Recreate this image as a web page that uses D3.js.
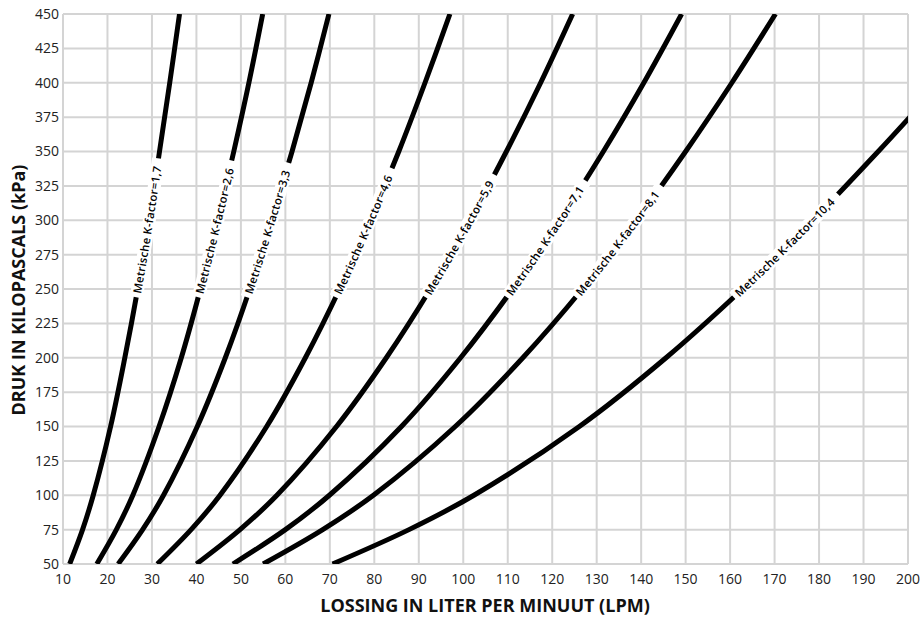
<!DOCTYPE html>
<html>
<head>
<meta charset="utf-8">
<script src="https://cdn.jsdelivr.net/npm/d3@7"></script>
<style>
  body { margin: 0; background: #fff; }
  svg { display: block; }
  text { font-family: "Open Sans", sans-serif; }
</style>
</head>
<body>
<svg id="chart" width="922" height="621"></svg>
<script>
const pressures = [50, 75, 100, 150, 200, 250, 300, 350, 400, 450];
const pressures104 = [50, 75, 100, 150, 200, 250, 300, 350, 375];

const kLabels = ["1,7", "2,6", "3,3", "4,6", "5,9", "7,1", "8,1", "10,4"];
const flow17 = [11.5, 14.4, 16.8, 20.7, 23.9, 26.8, 29.4, 31.7, 34.0, 36.2];
const flow26 = [17.6, 22.0, 25.7, 31.6, 36.6, 40.9, 44.8, 48.4, 51.8, 54.9];
const flow33 = [22.4, 27.9, 32.6, 40.2, 46.5, 52.0, 56.9, 61.5, 65.8, 69.8];
const flow46 = [31.2, 38.8, 45.3, 55.8, 64.5, 72.2, 79.1, 85.5, 91.4, 97.0];
const flow59 = [40.0, 49.8, 58.1, 71.5, 82.7, 92.6, 101.5, 109.7, 117.4, 124.6];
const flow71 = [48.2, 60.0, 69.9, 86.1, 99.4, 111.1, 121.7, 131.5, 140.6, 149.1];
const flow81 = [55.0, 68.4, 79.8, 98.2, 113.4, 126.8, 138.9, 150.0, 160.4, 170.2];
const flow104 = [70.6, 87.8, 102.4, 126.1, 145.6, 162.8, 178.6, 193.3, 200.4];

const xTicks = [10, 20, 30, 40, 50, 60, 70, 80, 90, 100, 110, 120, 130, 140, 150, 160, 170, 180, 190, 200];
const yTicks = [50, 75, 100, 125, 150, 175, 200, 225, 250, 275, 300, 325, 350, 375, 400, 425, 450];

const labelPressure = 244;

// layout
const margin = { top: 14, right: 14, bottom: 57, left: 63 };
const W = 922, H = 621;
const width = W - margin.left - margin.right;
const height = H - margin.top - margin.bottom;

const svg = d3.select("#chart");
const g = svg.append("g").attr("transform", `translate(${margin.left},${margin.top})`);

const x = d3.scaleLinear().domain([10, 200]).range([0, width]);
const y = d3.scaleLinear().domain([50, 450]).range([height, 0]);

// raster
g.append("g").selectAll("line").data(xTicks).join("line")
  .attr("x1", d => x(d)).attr("x2", d => x(d))
  .attr("y1", 0).attr("y2", height)
  .attr("stroke", "#d4d4d4").attr("stroke-width", 2);
g.append("g").selectAll("line").data(yTicks).join("line")
  .attr("x1", 0).attr("x2", width)
  .attr("y1", d => y(d)).attr("y2", d => y(d))
  .attr("stroke", "#d4d4d4").attr("stroke-width", 2);

// tick labels
g.append("g").selectAll("text").data(xTicks).join("text")
  .attr("x", d => x(d)).attr("y", height + 20)
  .attr("text-anchor", "middle")
  .attr("font-size", 14).attr("fill", "#222")
  .text(d => d);
g.append("g").selectAll("text").data(yTicks).join("text")
  .attr("x", -4).attr("y", d => y(d)).attr("dy", "0.35em")
  .attr("text-anchor", "end")
  .attr("font-size", 14).attr("fill", "#222")
  .text(d => d);

// axis titles
svg.append("text")
  .attr("x", 485).attr("y", 612)
  .attr("text-anchor", "middle")
  .attr("font-size", 18).attr("font-weight", 700).attr("fill", "#111")
  .text("LOSSING IN LITER PER MINUUT (LPM)");
svg.append("text")
  .attr("transform", "translate(25,290) rotate(-90)")
  .attr("text-anchor", "middle")
  .attr("font-size", 18).attr("font-weight", 700).attr("fill", "#111")
  .text("DRUK IN KILOPASCALS (kPa)");

// curves
svg.append("defs").append("clipPath").attr("id", "plot-clip")
  .append("rect").attr("width", width).attr("height", height);

const series = [
  { k: kLabels[0], p: pressures, q: flow17 },
  { k: kLabels[1], p: pressures, q: flow26 },
  { k: kLabels[2], p: pressures, q: flow33 },
  { k: kLabels[3], p: pressures, q: flow46 },
  { k: kLabels[4], p: pressures, q: flow59 },
  { k: kLabels[5], p: pressures, q: flow71 },
  { k: kLabels[6], p: pressures, q: flow81 },
  { k: kLabels[7], p: pressures104, q: flow104 }
];

const line = d3.line()
  .x(d => x(d[0]))
  .y(d => y(d[1]))
  .curve(d3.curveCatmullRom.alpha(0.5));

const curves = g.append("g").attr("clip-path", "url(#plot-clip)");

series.forEach((s, i) => {
  const pts = s.q.map((q, j) => [q, s.p[j]]);
  const path = curves.append("path")
    .datum(pts)
    .attr("id", "curve-" + i)
    .attr("d", line)
    .attr("fill", "none")
    .attr("stroke", "#000")
    .attr("stroke-width", 5);

  // zoek de plaats op de curve waar het label begint
  const node = path.node();
  const total = node.getTotalLength();
  const target = y(labelPressure);
  let lo = 0, hi = total;
  for (let n = 0; n < 40; n++) {
    const mid = (lo + hi) / 2;
    if (node.getPointAtLength(mid).y > target) lo = mid; else hi = mid;
  }
  const start = lo;

  const txt = "Metrische K-factor=" + s.k;
  const tl = txt.length * 5.85;

  const band = curves.append("path")
    .datum(pts)
    .attr("d", line)
    .attr("fill", "none")
    .attr("stroke", "#fff")
    .attr("stroke-width", 13)
    .attr("stroke-dasharray", `0 ${start} ${tl + 12} ${total}`);

  const label = curves.append("text")
    .attr("dy", "0.36em")
    .attr("font-size", 11.3)
    .attr("font-weight", 600)
    .attr("fill", "#000");
  label.append("textPath")
    .attr("href", "#curve-" + i)
    .attr("startOffset", start + 4)
    .attr("textLength", tl)
    .attr("lengthAdjust", "spacing")
    .text(txt);
});
</script>
</body>
</html>
